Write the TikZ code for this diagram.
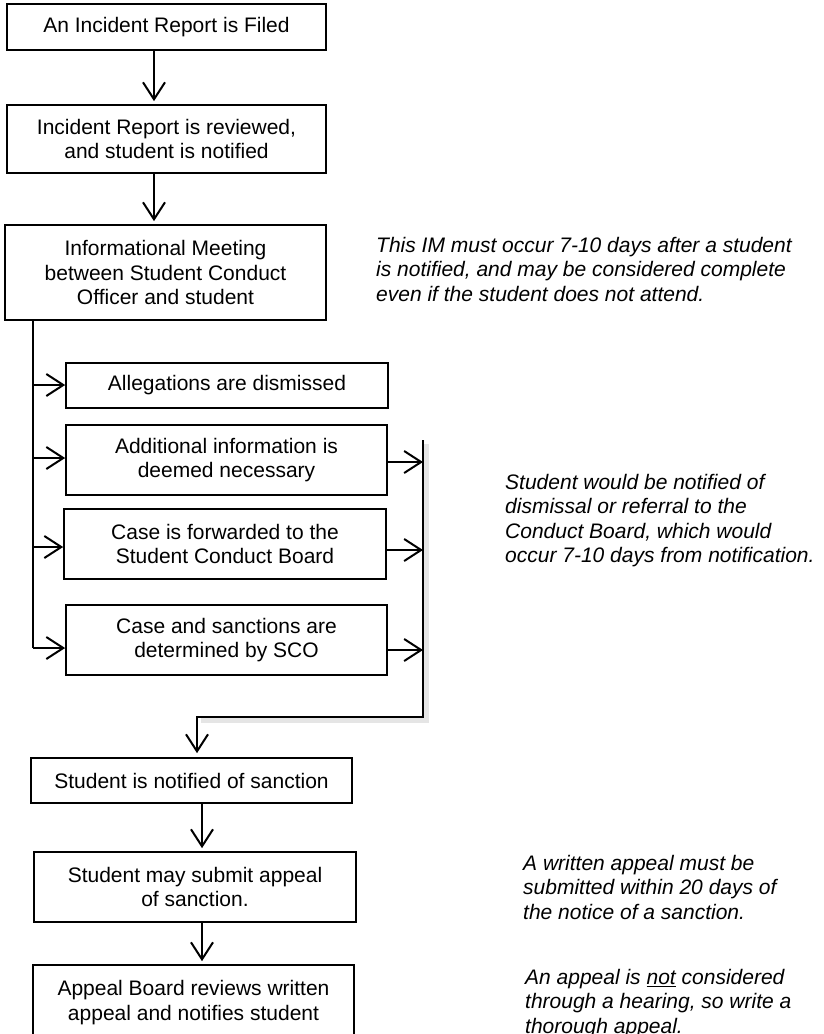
\documentclass[tikz,border=0pt]{standalone}
\usepackage{fontspec}
\setmainfont{Liberation Sans}
\usetikzlibrary{arrows.meta}
\begin{document}
\begin{tikzpicture}[x=1pt,y=-1pt,
  box/.style={draw, line width=1.7pt, align=center, inner sep=0pt, font=\fontsize{21}{24.5}\selectfont},
  note/.style={anchor=north west, align=left, inner sep=0pt, font=\fontsize{21}{24.5}\selectfont\itshape},
  arr/.style={line width=2pt, -{Straight Barb[length=17pt,width=22pt]}},
  ln/.style={line width=2pt},
  shade/.style={line width=5pt, black!10}]
\useasboundingbox (0,0) rectangle (823,1034);
\clip (0,0) rectangle (823,1034);

% boxes
\node[box, minimum width=319pt, minimum height=46pt] (b1) at (166.5,27) {An Incident Report is Filed};
\node[box, minimum width=319pt, minimum height=68pt] (b2) at (166.5,139) {Incident Report is reviewed,\\ and student is notified};
\node[box, minimum width=321pt, minimum height=95pt] (b3) at (165.5,272.5) {Informational Meeting\\ between Student Conduct\\ Officer and student};
\node[box, minimum width=322pt, minimum height=45pt] (b4) at (227,385.5) {Allegations are dismissed};
\node[box, minimum width=321pt, minimum height=70pt] (b5) at (226.5,460) {Additional information is\\ deemed necessary};
\node[box, minimum width=322pt, minimum height=70pt] (b6) at (225,544) {Case is forwarded to the\\ Student Conduct Board};
\node[box, minimum width=321pt, minimum height=70pt] (b7) at (226.5,640) {Case and sanctions are\\ determined by SCO};
\node[box, minimum width=321pt, minimum height=45pt] (b8) at (191.5,780.5) {Student is notified of sanction};
\node[box, minimum width=322pt, minimum height=70pt] (b9) at (195,887) {Student may submit appeal\\ of sanction.};
\node[box, minimum width=321pt, minimum height=75pt] (b10) at (193.5,1002.5) {Appeal Board reviews written\\ appeal and notifies student};

% notes
\node[note] (n1) at (376,237) {This IM must occur 7-10 days after a student\\ is notified, and may be considered complete\\ even if the student does not attend.};
\node[note] (n2) at (505,474) {Student would be notified of\\ dismissal or referral to the\\ Conduct Board, which would\\ occur 7-10 days from notification.};
\node[note] (n3) at (523,855) {A written appeal must be\\ submitted within 20 days of\\ the notice of a sanction.};
\node[note] (n4) at (525,969) {An appeal is \underline{not} considered\\ through a hearing, so write a\\ thorough appeal.};

% top arrows
\draw[arr, shorten >=3pt] (b1.south -| 154,0) -- (b2.north -| 154,0);
\draw[arr, shorten >=3pt] (b2.south -| 154,0) -- (b3.north -| 154,0);

% left trunk
\coordinate (t0) at (33,320);
\coordinate (t4) at (33,385);
\coordinate (t5) at (33,458);
\coordinate (t6) at (33,547);
\coordinate (t7) at (33,648);
\draw[ln] (t0) -- (t7);
\draw[arr] (t4) -- (t4 -| b4.west);
\draw[arr] (t5) -- (t5 -| b5.west);
\draw[arr] (t6) -- (t6 -| b6.west);
\draw[arr] (t7) -- (t7 -| b7.west);

% right bracket
\coordinate (r5) at (423,462);
\coordinate (r6) at (423,550);
\coordinate (r7) at (423,650);
\coordinate (rt) at (423,440);
\coordinate (rb) at (423,717);
\coordinate (lb) at (197,717);
\draw[shade] (426,444) -- (426,720) -- (201,720);
\draw[arr] (b5.east |- r5) -- (r5);
\draw[arr] (b6.east |- r6) -- (r6);
\draw[arr] (b7.east |- r7) -- (r7);
\draw[arr, shorten >=4pt] (rt) -- (rb) -- (lb) -- (lb |- b8.north);

% bottom arrows
\draw[arr, shorten >=3pt] (b8.south -| 202,0) -- (b9.north -| 202,0);
\draw[arr, shorten >=3pt] (b9.south -| 202,0) -- (b10.north -| 202,0);
\end{tikzpicture}
\end{document}
